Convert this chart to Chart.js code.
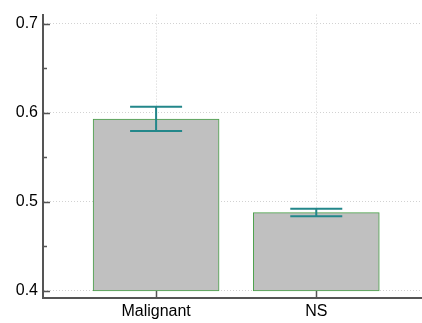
<!DOCTYPE html>
<html>
<head>
<meta charset="utf-8">
<script src="https://cdn.jsdelivr.net/npm/chart.js@4/dist/chart.umd.min.js"></script>
<style>
  html, body { margin: 0; padding: 0; background: #fff; }
  #wrap { width: 422px; height: 323px; }
</style>
</head>
<body>
<div id="wrap"><canvas id="bars"></canvas></div>
<script>
const categories = ['Malignant', 'NS'];
const positions = [1, 2];
const means = [0.593, 0.488];
const errLow = [0.5797, 0.484];
const errHigh = [0.6068, 0.4924];
const yTicks = [0.4, 0.45, 0.5, 0.55, 0.6, 0.65, 0.7];
const baseValue = 0.4;

const isMajor = v => Math.abs(v * 10 - Math.round(v * 10)) < 1e-6;

// error bars + inward tick marks
const extras = {
  id: 'extras',
  afterDatasetsDraw(chart) {
    const { ctx, scales: { x, y } } = chart;
    ctx.save();
    ctx.strokeStyle = '#23878a';
    ctx.lineWidth = 2;
    positions.forEach((p, i) => {
      const px = x.getPixelForValue(p);
      const hi = y.getPixelForValue(errHigh[i]);
      const lo = y.getPixelForValue(errLow[i]);
      ctx.beginPath();
      ctx.moveTo(px, hi); ctx.lineTo(px, lo);
      ctx.moveTo(px - 26, hi); ctx.lineTo(px + 26, hi);
      ctx.moveTo(px - 26, lo); ctx.lineTo(px + 26, lo);
      ctx.stroke();
    });
    ctx.restore();
  },
  afterDraw(chart) {
    const { ctx, chartArea, scales: { x, y } } = chart;
    ctx.save();
    ctx.strokeStyle = '#555';
    ctx.lineWidth = 1.5;
    ctx.beginPath();
    yTicks.forEach(v => {
      const py = Math.round(y.getPixelForValue(v)) + 0.5;
      ctx.moveTo(chartArea.left, py);
      ctx.lineTo(chartArea.left + (isMajor(v) ? 7 : 4), py);
    });
    positions.forEach(p => {
      const px = Math.round(x.getPixelForValue(p)) + 0.5;
      ctx.moveTo(px, chartArea.bottom);
      ctx.lineTo(px, chartArea.bottom - 7);
    });
    ctx.stroke();
    ctx.restore();
  }
};

new Chart(document.getElementById('bars'), {
  type: 'bar',
  data: {
    datasets: [{
      data: positions.map((p, i) => ({ x: p, y: [baseValue, means[i]] })),
      backgroundColor: '#c0c0c0',
      borderColor: '#48a048',
      borderWidth: 1,
      borderSkipped: false,
      barThickness: 126
    }]
  },
  options: {
    responsive: true,
    maintainAspectRatio: false,
    animation: false,
    layout: { padding: { top: 5, right: 0, left: 0, bottom: 0 } },
    plugins: { legend: { display: false }, tooltip: { enabled: false } },
    scales: {
      x: {
        type: 'linear',
        offset: false,
        min: 0.294,
        max: 2.66,
        afterBuildTicks: s => { s.ticks = positions.map(v => ({ value: v })); },
        afterFit: s => { s.height = 25; },
        ticks: {
          callback: v => categories[positions.indexOf(v)] || '',
          font: { family: 'Liberation Sans, Arial', size: 16 },
          color: '#000',
          padding: 4,
          maxRotation: 0,
          autoSkip: false
        },
        grid: { offset: false, color: '#d2d2d2', lineWidth: 1, drawTicks: false },
        border: { display: true, color: '#555', width: 2, dash: [1, 2] }
      },
      y: {
        min: 0.392,
        max: 0.7105,
        afterBuildTicks: s => { s.ticks = yTicks.map(v => ({ value: v })); },
        afterFit: s => { s.width = 43; },
        ticks: {
          callback: v => isMajor(v) ? v.toFixed(1) : '',
          font: { family: 'Liberation Sans, Arial', size: 16 },
          color: '#000',
          padding: 5,
          autoSkip: false
        },
        grid: {
          color: c => (c.tick && isMajor(c.tick.value)) ? '#d2d2d2' : 'rgba(0,0,0,0)',
          lineWidth: 1,
          drawTicks: false
        },
        border: { display: true, color: '#555', width: 2, dash: [1, 2] }
      }
    }
  },
  plugins: [extras]
});
</script>
</body>
</html>
